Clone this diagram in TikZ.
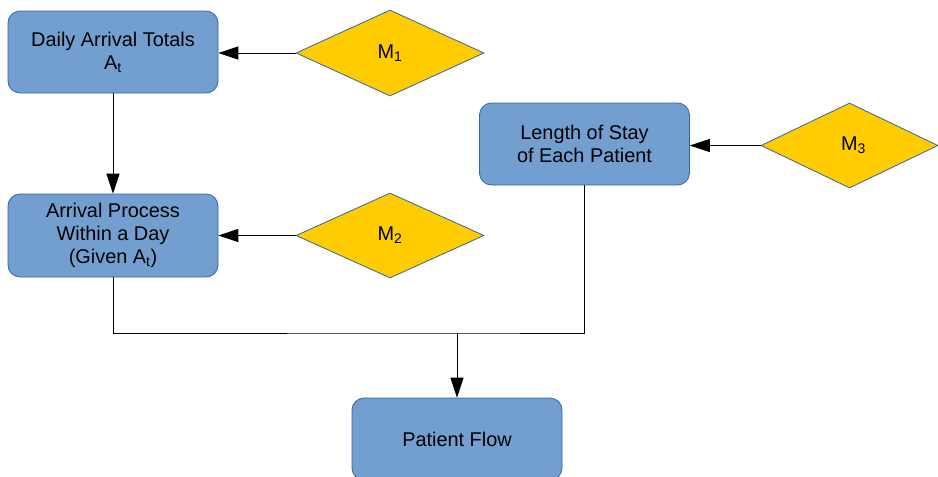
\documentclass[tikz,border=0pt]{standalone}
\usepackage{fontspec}
\setmainfont{Liberation Sans}
\usetikzlibrary{shapes.geometric,arrows.meta}
\definecolor{boxfill}{HTML}{729FCF}
\definecolor{boxline}{HTML}{3465A4}
\definecolor{dfill}{HTML}{FFCC00}
\tikzset{
  procbox/.style={draw=boxline, fill=boxfill, line width=0.8pt, rounded corners=12pt,
    minimum width=210pt, minimum height=82pt, inner sep=0pt, align=center,
    font=\fontsize{19.9}{23}\selectfont},
  modeldiam/.style={diamond, draw=boxline, fill=dfill, line width=0.8pt,
    minimum width=188pt, minimum height=86pt, inner sep=0pt,
    font=\fontsize{19.9}{23}\selectfont},
  arr/.style={line width=1pt, -{Triangle[length=20pt,width=13pt]}},
  conn/.style={line width=1pt}
}
\begin{document}
\begin{tikzpicture}[x=1pt,y=-1pt]
\useasboundingbox (0,0) rectangle (938,477);
\node[procbox] (b1) at (113,52) {Daily Arrival Totals\\A\textsubscript{t}};
\node[procbox, minimum height=83pt] (b2) at (113,235.5) {Arrival Process\\Within a Day\\(Given A\textsubscript{t})};
\node[procbox, minimum width=210pt] (b3) at (584.5,144) {Length of Stay\\of Each Patient};
\node[procbox] (b4) at (457,439) {Patient Flow};
\node[modeldiam] (m1) at (390,53) {M\textsubscript{1}};
\node[modeldiam, minimum height=85pt] (m2) at (390,235.5) {M\textsubscript{2}};
\node[modeldiam, minimum width=177pt, minimum height=85pt] (m3) at (849.5,145.5) {\hspace{8pt}M\textsubscript{3}};
\coordinate (j) at (457,333);
\draw[arr] (m1.west) -- (m1.west -| b1.east);
\draw[arr] (b1.south) -- (b2.north);
\draw[arr] (m2.west) -- (m2.west -| b2.east);
\draw[arr] (m3.west) -- (m3.west -| b3.east);
\draw[conn] (b2.south) |- (j) -| (b3.south);
\draw[arr] (j) -- (b4.north);
\end{tikzpicture}
\end{document}
